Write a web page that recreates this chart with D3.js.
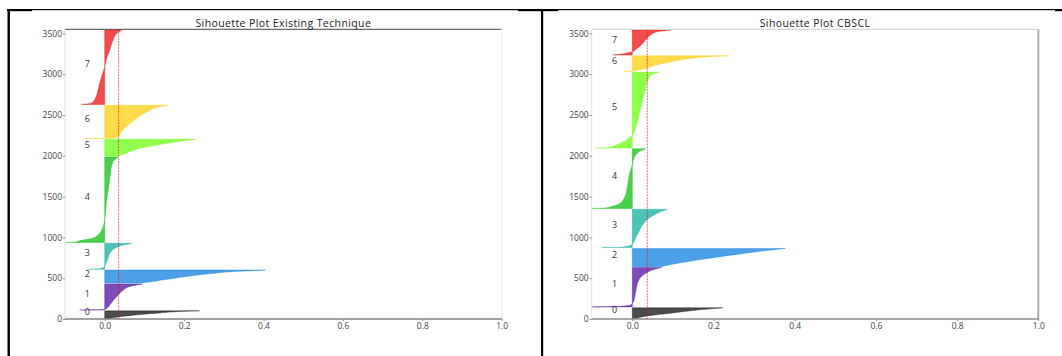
<!DOCTYPE html>
<html>
<head>
<meta charset="utf-8">
<script src="https://cdn.jsdelivr.net/npm/d3@7"></script>
<style>
  body { margin: 0; background: #fff; }
  svg { display: block; }
  text { font-family: "Open Sans", sans-serif; }
</style>
</head>
<body>
<svg id="chart" width="1062" height="356"></svg>
<script>
// cluster labels and colours (nipy_spectral, drawn at alpha 0.7)
const clusterLabels = ['0', '1', '2', '3', '4', '5', '6', '7'];
const clusterColors = ['#000000', '#440099', '#0077dd', '#00aa99', '#00bb00', '#5dff00', '#ffcc00', '#ee0000'];

const xTicks = [0.0, 0.2, 0.4, 0.6, 0.8, 1.0];
const yTicks = [0, 500, 1000, 1500, 2000, 2500, 3000, 3500];

// sorted silhouette values per cluster as [fraction of cluster, value]
const existingSizes = [90, 320, 160, 318, 1047, 207, 408, 910];
const existingProfiles = [
  [[0, 0.013], [0.25, 0.046], [0.5, 0.089], [0.72, 0.139], [0.93, 0.198], [1, 0.239]],
  [[0, -0.063], [0.01, -0.02], [0.03, 0.0], [0.07, 0.006], [0.2, 0.013], [0.39, 0.023], [0.58, 0.034], [0.77, 0.047], [0.9, 0.063], [1, 0.095]],
  [[0, 0.085], [0.06, 0.106], [0.25, 0.148], [0.51, 0.207], [0.77, 0.283], [0.9, 0.334], [1, 0.405]],
  [[0, -0.04], [0.01, -0.02], [0.04, -0.008], [0.08, -0.002], [0.22, 0.003], [0.41, 0.008], [0.61, 0.013], [0.8, 0.025], [0.93, 0.047], [1, 0.068]],
  [[0, -0.1], [0.003, -0.075], [0.021, -0.063], [0.049, -0.03], [0.107, -0.013], [0.185, -0.004], [0.263, 0.0], [0.459, 0.004], [0.653, 0.01], [0.824, 0.015], [0.91, 0.018], [0.967, 0.025], [1, 0.034]],
  [[0, 0.03], [0.07, 0.042], [0.27, 0.063], [0.47, 0.089], [0.66, 0.131], [0.86, 0.182], [1, 0.228]],
  [[0, -0.05], [0.005, 0.0], [0.015, 0.025], [0.05, 0.034], [0.2, 0.042], [0.4, 0.059], [0.6, 0.08], [0.8, 0.107], [0.95, 0.139], [1, 0.16]],
  [[0, -0.059], [0.007, -0.04], [0.033, -0.03], [0.077, -0.024], [0.187, -0.017], [0.297, -0.012], [0.407, -0.006], [0.505, 0.0], [0.604, 0.004], [0.736, 0.013], [0.868, 0.021], [0.956, 0.03], [1, 0.042]]
];
const existingAvg = 0.035;

const cbsclSizes = [128, 482, 225, 470, 730, 930, 190, 305];
const cbsclProfiles = [
  [[0, 0.01], [0.19, 0.033], [0.5, 0.098], [0.78, 0.16], [0.92, 0.2], [1, 0.223]],
  [[0, -0.1], [0.008, -0.04], [0.05, -0.004], [0.13, 0.003], [0.259, 0.006], [0.429, 0.009], [0.685, 0.016], [0.855, 0.033], [0.938, 0.049], [1, 0.072]],
  [[0, 0.07], [0.06, 0.082], [0.2, 0.115], [0.38, 0.164], [0.56, 0.221], [0.74, 0.279], [0.92, 0.344], [1, 0.377]],
  [[0, -0.075], [0.01, -0.03], [0.06, -0.004], [0.148, 0.004], [0.28, 0.009], [0.409, 0.016], [0.589, 0.025], [0.763, 0.041], [0.893, 0.061], [1, 0.086]],
  [[0, -0.1], [0.005, -0.07], [0.037, -0.049], [0.093, -0.029], [0.203, -0.018], [0.369, -0.012], [0.536, -0.008], [0.648, -0.004], [0.73, 0.0], [0.84, 0.004], [0.95, 0.016], [1, 0.033]],
  [[0, -0.09], [0.005, -0.06], [0.036, -0.041], [0.104, -0.016], [0.169, 0.0], [0.301, 0.01], [0.522, 0.02], [0.742, 0.031], [0.874, 0.037], [0.962, 0.045], [1, 0.066]],
  [[0, -0.02], [0.03, 0.005], [0.1, 0.016], [0.19, 0.033], [0.4, 0.057], [0.62, 0.098], [0.84, 0.148], [0.95, 0.197], [1, 0.238]],
  [[0, -0.048], [0.03, -0.03], [0.07, -0.016], [0.13, 0.0], [0.24, 0.01], [0.4, 0.022], [0.6, 0.033], [0.8, 0.045], [0.93, 0.061], [1, 0.094]]
];
const cbsclAvg = 0.037;

const svg = d3.select('#chart');
svg.append('rect').attr('width', 1062).attr('height', 356).attr('fill', '#fff');

// table frame around the two figures
const frame = svg.append('g').attr('fill', '#000');
frame.append('rect').attr('x', 7).attr('y', 9).attr('width', 1055).attr('height', 1.2);
frame.append('rect').attr('x', 7).attr('y', 9).attr('width', 25).attr('height', 2.2);
frame.append('rect').attr('x', 518).attr('y', 9).attr('width', 40).attr('height', 2.2);
frame.append('rect').attr('x', 1055).attr('y', 9).attr('width', 7).attr('height', 2.2);
frame.append('rect').attr('x', 7.5).attr('y', 9).attr('width', 2.4).attr('height', 347);
frame.append('rect').attr('x', 541).attr('y', 9).attr('width', 2.2).attr('height', 347);

const panels = [
  { title: 'Sihouette Plot Existing Technique', sizes: existingSizes, profiles: existingProfiles, avg: existingAvg,
    left: 65, right: 501.7, spines: { top: '#444', bottom: '#444', left: '#ddd', right: '#eee', rightWidth: 1 } },
  { title: 'Sihouette Plot CBSCL', sizes: cbsclSizes, profiles: cbsclProfiles, avg: cbsclAvg,
    left: 591.7, right: 1038.3, spines: { top: '#ccc', bottom: '#555', left: '#e2e2e2', right: '#aaa', rightWidth: 2 } }
];

const plotTop = 29.3, plotBottom = 319;

panels.forEach(p => {
  const n = d3.sum(p.sizes);
  const x = d3.scaleLinear().domain([-0.1, 1.0]).range([p.left, p.right]);
  const y = d3.scaleLinear().domain([0, n + (p.sizes.length + 1) * 10]).range([plotBottom, plotTop]);
  const g = svg.append('g');

  // cluster bands, stacked from 10 with a gap of 10
  let yLower = 10;
  p.sizes.forEach((size, i) => {
    const y0 = yLower;
    const area = d3.area()
      .x0(x(0))
      .x1(d => x(d[1]))
      .y(d => y(y0 + d[0] * size))
      .curve(d3.curveMonotoneY);
    g.append('path')
      .datum(p.profiles[i])
      .attr('d', area)
      .attr('fill', clusterColors[i])
      .attr('fill-opacity', 0.7)
      .attr('stroke', clusterColors[i])
      .attr('stroke-opacity', 0.7)
      .attr('stroke-width', 0.5);
    g.append('text')
      .attr('x', x(-0.05))
      .attr('y', y(y0 + 0.5 * size))
      .attr('font-size', 9)
      .attr('fill', '#333')
      .text(clusterLabels[i]);
    yLower += size + 10;
  });

  // average silhouette line
  g.append('line')
    .attr('x1', x(p.avg)).attr('x2', x(p.avg))
    .attr('y1', plotTop).attr('y2', plotBottom)
    .attr('stroke', '#ff0000').attr('stroke-opacity', 0.6)
    .attr('stroke-width', 1).attr('stroke-dasharray', '2,1');

  // spines
  const s = p.spines;
  g.append('line').attr('x1', p.left).attr('x2', p.right).attr('y1', plotTop).attr('y2', plotTop).attr('stroke', s.top);
  g.append('line').attr('x1', p.left).attr('x2', p.left).attr('y1', plotTop).attr('y2', plotBottom).attr('stroke', s.left);
  g.append('line').attr('x1', p.right).attr('x2', p.right).attr('y1', plotTop).attr('y2', plotBottom)
    .attr('stroke', s.right).attr('stroke-width', s.rightWidth);
  g.append('line').attr('x1', p.left).attr('x2', p.right).attr('y1', plotBottom).attr('y2', plotBottom).attr('stroke', s.bottom);

  // axes
  const xAxis = g.append('g').attr('transform', `translate(0,${plotBottom})`)
    .call(d3.axisBottom(x).tickValues(xTicks).tickFormat(d3.format('.1f')).tickSize(2).tickPadding(2));
  const yAxis = g.append('g').attr('transform', `translate(${p.left},0)`)
    .call(d3.axisLeft(y).tickValues(yTicks).tickFormat(d3.format('d')).tickSize(2).tickPadding(1));
  [xAxis, yAxis].forEach(a => {
    a.select('.domain').remove();
    a.selectAll('line').attr('stroke', '#888');
    a.selectAll('text').attr('font-size', 8.5).attr('fill', '#444').attr('font-family', '"Open Sans", sans-serif');
  });

  g.append('text')
    .attr('x', (p.left + p.right) / 2)
    .attr('y', 26.5)
    .attr('text-anchor', 'middle')
    .attr('font-size', 10.5)
    .attr('letter-spacing', 0.4)
    .attr('fill', '#222')
    .text(p.title);
});
</script>
</body>
</html>
